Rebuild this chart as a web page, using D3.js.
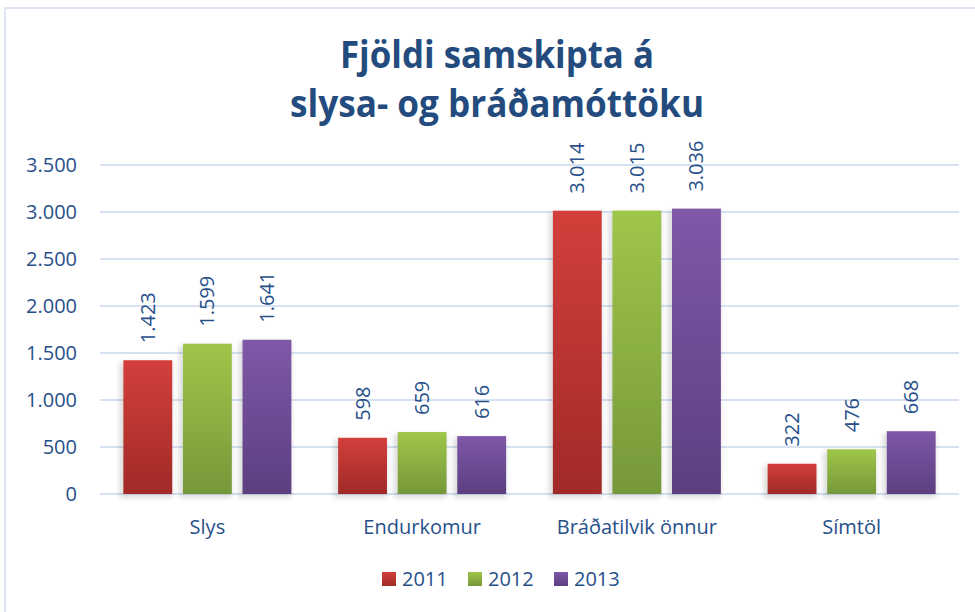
<!DOCTYPE html>
<html>
<head>
<meta charset="utf-8">
<script src="https://cdn.jsdelivr.net/npm/d3@7"></script>
<style>
  body { margin: 0; background: #fff; }
  text { font-family: "Open Sans", sans-serif; fill: #27508a; }
</style>
</head>
<body>
<div id="chart"></div>
<script>
var categories = ["Slys", "Endurkomur", "Bráðatilvik önnur", "Símtöl"];
var years = ["2011", "2012", "2013"];
var values2011 = [1423, 598, 3014, 322];
var values2012 = [1599, 659, 3015, 476];
var values2013 = [1641, 616, 3036, 668];
var yTicks = [0, 500, 1000, 1500, 2000, 2500, 3000, 3500];
var titleLines = ["Fjöldi samskipta á", "slysa- og bráðamóttöku"];

var series = [values2011, values2012, values2013];
var colors = [
    { top: "#d33f3b", bottom: "#a02a27" },
    { top: "#9fc64a", bottom: "#76983a" },
    { top: "#7f58a8", bottom: "#5b3f80" }
];

var width = 975, height = 612;
var plot = { left: 100, right: 959, top: 165, bottom: 494 };

var svg = d3.select("#chart").append("svg")
    .attr("width", width)
    .attr("height", height);

var defs = svg.append("defs");
colors.forEach(function(c, i) {
    var g = defs.append("linearGradient")
        .attr("id", "grad" + i)
        .attr("x1", 0).attr("y1", 0).attr("x2", 0).attr("y2", 1);
    g.append("stop").attr("offset", "0%").attr("stop-color", c.top);
    g.append("stop").attr("offset", "100%").attr("stop-color", c.bottom);
});
var shadow = defs.append("filter").attr("id", "shadow")
    .attr("x", "-20%").attr("y", "-10%").attr("width", "140%").attr("height", "120%");
shadow.append("feGaussianBlur").attr("stdDeviation", 2.5);

// frame
svg.append("rect")
    .attr("x", 5).attr("y", 8)
    .attr("width", 990).attr("height", 620)
    .attr("fill", "none")
    .attr("stroke", "#dbe5f3")
    .attr("stroke-width", 2);

// title
svg.selectAll(".title")
    .data(titleLines)
    .enter()
    .append("text")
    .attr("class", "title")
    .attr("x", 497)
    .attr("y", function(d, i) { return 68 + i * 49; })
    .attr("text-anchor", "middle")
    .attr("textLength", function(d, i) { return i == 0 ? 314 : 414; })
    .attr("lengthAdjust", "spacingAndGlyphs")
    .style("font-size", "38px")
    .style("font-weight", "bold")
    .style("fill", "#234b7e")
    .text(function(d) { return d; });

var x0 = d3.scaleBand()
    .domain(categories)
    .range([plot.left, plot.right]);

var x1 = d3.scaleBand()
    .domain(years)
    .range([0, 168])
    .paddingInner(0.18)
    .paddingOuter(0);

var y = d3.scaleLinear()
    .domain([0, 3500])
    .range([plot.bottom, plot.top]);

// grid
svg.selectAll(".grid")
    .data(yTicks)
    .enter()
    .append("line")
    .attr("x1", plot.left)
    .attr("x2", plot.right)
    .attr("y1", function(d) { return y(d); })
    .attr("y2", function(d) { return y(d); })
    .attr("stroke", "#d6e2f2")
    .attr("stroke-width", 2);

// y axis labels
var yAxis = d3.axisLeft(y).tickValues(yTicks).tickSize(0).tickPadding(0)
    .tickFormat(function(d) { return d3.format(",")(d).replace(/,/g, "."); });
var yg = svg.append("g")
    .attr("transform", "translate(77,0)")
    .call(yAxis);
yg.select(".domain").remove();
yg.selectAll("text")
    .attr("font-family", null)
    .style("font-size", "20px")
    .style("fill", "#27508a");

// x axis labels
var xAxis = d3.axisBottom(x0).tickSize(0).tickPadding(0);
var xg = svg.append("g")
    .attr("transform", "translate(0,518)")
    .call(xAxis);
xg.select(".domain").remove();
xg.selectAll("text")
    .attr("dy", "0.8em")
    .attr("font-family", null)
    .style("font-size", "20px")
    .style("fill", "#27508a");

// bars
var groups = svg.selectAll(".cat")
    .data(categories)
    .enter()
    .append("g")
    .attr("transform", function(d) {
        return "translate(" + (x0(d) + (x0.bandwidth() - 168) / 2) + ",0)";
    });

years.forEach(function(yr, si) {
    groups.append("rect")
        .attr("x", x1(yr) - 4)
        .attr("y", function(d, ci) { return y(series[si][ci]) + 2; })
        .attr("width", x1.bandwidth() + 4)
        .attr("height", function(d, ci) { return y(0) - y(series[si][ci]) + 2; })
        .attr("fill", "#000")
        .attr("opacity", 0.13)
        .attr("filter", "url(#shadow)");

    groups.append("rect")
        .attr("x", x1(yr))
        .attr("y", function(d, ci) { return y(series[si][ci]); })
        .attr("width", x1.bandwidth())
        .attr("height", function(d, ci) { return y(0) - y(series[si][ci]); })
        .attr("fill", "url(#grad" + si + ")");

    groups.append("text")
        .attr("transform", function(d, ci) {
            return "translate(" + (x1(yr) + x1.bandwidth() / 2) + "," + (y(series[si][ci]) - 17) + ") rotate(-90)";
        })
        .attr("dy", "0.35em")
        .style("font-size", "20px")
        .text(function(d, ci) { return d3.format(",")(series[si][ci]).replace(/,/g, "."); });
});

// legend
var legendX = [382, 468, 554];
var legend = svg.selectAll(".legend")
    .data(years)
    .enter()
    .append("g")
    .attr("transform", function(d, i) { return "translate(" + legendX[i] + ",572)"; });

legend.append("rect")
    .attr("width", 14)
    .attr("height", 14)
    .attr("fill", function(d, i) { return "url(#grad" + i + ")"; });

legend.append("text")
    .attr("x", 20)
    .attr("y", 14)
    .style("font-size", "20px")
    .text(function(d) { return d; });
</script>
</body>
</html>
